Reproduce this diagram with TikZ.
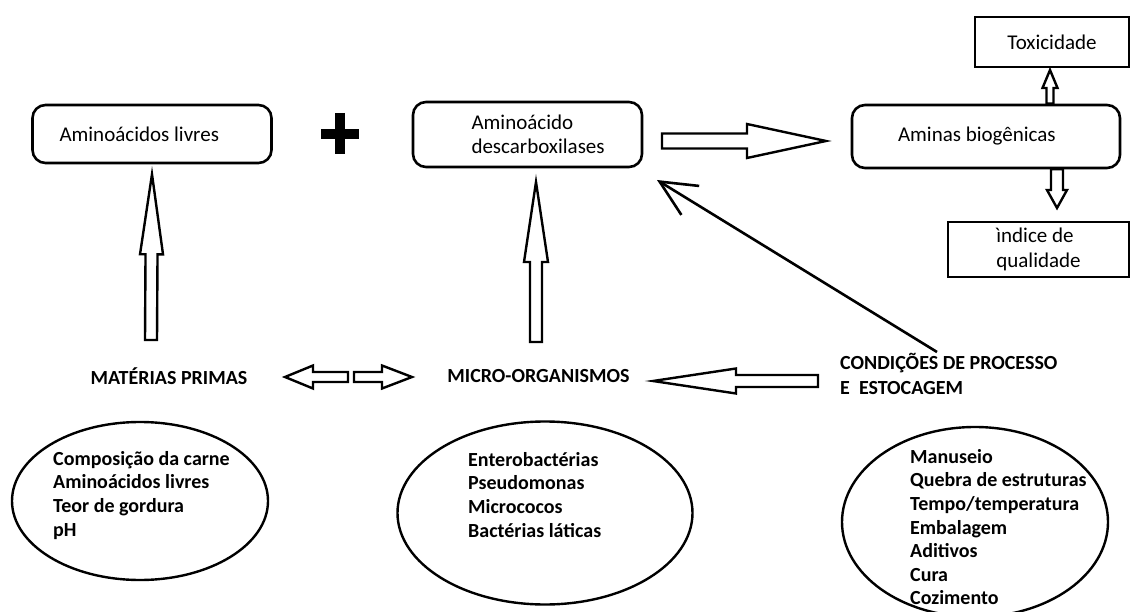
\documentclass[tikz,border=0pt]{standalone}
\usepackage{fontspec}
\setmainfont{Carlito}
\usetikzlibrary{calc,arrows.meta,shapes.geometric,positioning}

% hollow block arrow: tail, tip, shaft half width, head half width, head length
\newcommand{\blockarrow}[5]{%
  \coordinate (ba-base) at ($(#2)!#5!(#1)$);
  \draw[blockline] ($(#1)!#3!90:(#2)$) -- ($(ba-base)!#3!90:(#2)$)
    -- ($(ba-base)!#4!90:(#2)$) -- (#2) -- ($(ba-base)!#4!-90:(#2)$)
    -- ($(ba-base)!#3!-90:(#2)$) -- ($(#1)!#3!-90:(#2)$) -- cycle;
}
\newcommand{\indentline}{\hspace*{24pt}}

\begin{document}
\begin{tikzpicture}[x=1pt, y=-1pt,
    termbox/.style={draw, line width=2.6pt, rounded corners=13pt, align=flush left,
      font=\fontsize{21}{24}\selectfont},
    framebox/.style={draw, line width=2.6pt, align=left,
      font=\fontsize{21}{25}\selectfont},
    blockline/.style={line width=2.4pt, line join=miter, fill=white},
    caplabel/.style={align=left, font=\bfseries\fontsize{20}{25}\selectfont},
    listtext/.style={align=left, anchor=north west, inner sep=0pt,
      font=\bfseries\fontsize{20}{23.6}\selectfont},
    oval/.style={draw, ellipse, line width=2.4pt, inner sep=0pt}]
    \useasboundingbox (0,0) rectangle (1132,612);

    % top row
    \node[termbox, text width=185pt, inner xsep=27pt, minimum height=58pt] (aminolivres) at (152,134) {Aminoácidos livres};
    \draw[line width=10pt] (321,134) -- (359,134) (340,113) -- (340,154);
    \node[termbox, text width=160pt, inner xsep=34.5pt, minimum height=65pt] (descarb) at (527.5,134.5) {\indentline Aminoácido\\\indentline descarboxilases};
    \node[termbox, text width=176pt, inner xsep=46pt, minimum height=63pt] (aminas) at (986,136.5) {Aminas biogênicas};
    \node[framebox, minimum width=154pt, minimum height=50pt] (toxic) at (1052,42) {Toxicidade};
    \node[framebox, minimum width=181pt, minimum height=55pt] (indice) at (1038.5,249.5) {ìndice de\\qualidade};

    % middle row
    \node[caplabel] (matprim) at (169,376) {MATÉRIAS PRIMAS};
    \node[caplabel] (micro) at (538.5,376) {MICRO-ORGANISMOS};
    \node[caplabel, anchor=west, inner xsep=0pt] (cond) at (840,374) {CONDIÇÕES DE PROCESSO\\E\ \ ESTOCAGEM};

    % ovals
    \node[oval, minimum width=256pt, minimum height=158pt] (ovalmat) at (140,501) {};
    \node[oval, minimum width=295pt, minimum height=183pt] (ovalmicro) at (545,513) {};
    \node[oval, minimum width=266pt, minimum height=190pt] (ovalcond) at (975,522) {};
    \node[listtext] (listmat) at (53,451) {Composição da carne\\Aminoácidos livres\\Teor de gordura\\pH};
    \node[listtext] (listmicro) at (468,452) {Enterobactérias\\Pseudomonas\\Micrococos\\Bactérias láticas};
    \node[listtext] (listcond) at (910,449) {Manuseio\\Quebra de estruturas\\Tempo/temperatura\\Embalagem\\Aditivos\\Cura\\Cozimento};

    % arrow ends
    \coordinate (up1tail) at (151,340);
    \coordinate (up1tip) at ($(aminolivres.south)+(0,10)$);
    \coordinate (up2tail) at (536,342);
    \coordinate (up2tip) at (536,182);
    \coordinate (righttail) at (662,141);
    \coordinate (righttip) at (826,141);
    \coordinate (toxtail) at (1050,0 |- aminas.north);
    \coordinate (toxtip) at (1050,70);
    \coordinate (indtail) at (1057,0 |- aminas.south);
    \coordinate (indtip) at (1057,208);
    \coordinate (lefttail) at (348,377);
    \coordinate (lefttip) at (285,377);
    \coordinate (rtail) at (354,377);
    \coordinate (rtip) at (412,377);
    \coordinate (bigtail) at (818,381);
    \coordinate (bigtip) at (653,381);
    \coordinate (diagtail) at (937,352);
    \coordinate (diagtip) at (657,180);

    % block arrows
    \blockarrow{up1tail}{up1tip}{6pt}{11.5pt}{80pt}
    \blockarrow{up2tail}{up2tip}{6pt}{12pt}{80pt}
    \blockarrow{righttail}{righttip}{7.5pt}{17pt}{79pt}
    \blockarrow{toxtail}{toxtip}{3.5pt}{7.5pt}{18pt}
    \blockarrow{indtail}{indtip}{6pt}{10pt}{18pt}
    \blockarrow{lefttail}{lefttip}{5pt}{11.5pt}{28pt}
    \blockarrow{rtail}{rtip}{5pt}{11.5pt}{30pt}
    \blockarrow{bigtail}{bigtip}{6pt}{12.5pt}{83pt}

    % process conditions act on the enzymes
    \draw[line width=2.6pt, -{Straight Barb[length=36pt, width=34pt]}] (diagtail) -- (diagtip);
\end{tikzpicture}
\end{document}
